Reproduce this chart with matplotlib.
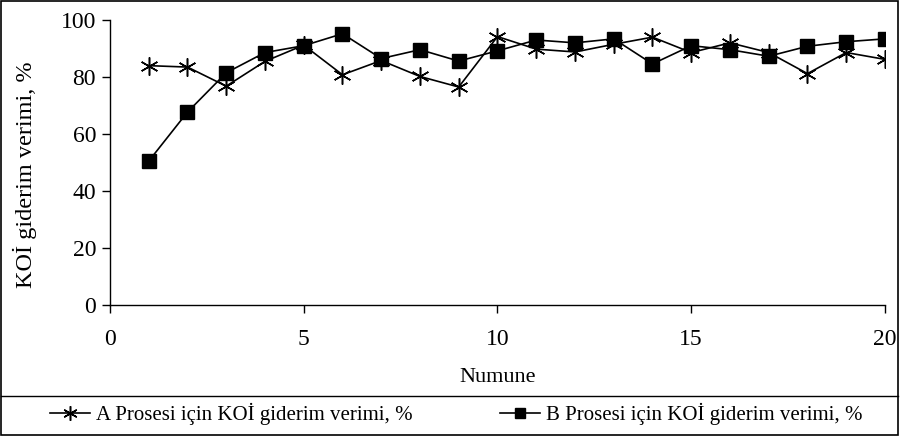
import matplotlib
matplotlib.use("Agg")
import matplotlib.pyplot as plt
from matplotlib.patches import Rectangle
from matplotlib.lines import Line2D

plt.rcParams['font.family'] = ['Liberation Serif', 'DejaVu Serif']

numune = list(range(1, 21))
a_verim = [84.0, 83.5, 76.8, 85.5, 91.2, 80.8, 85.8, 80.2, 76.5, 94.2,
           89.8, 88.8, 91.5, 94.0, 88.6, 92.0, 88.6, 81.2, 88.6, 86.2]
b_verim = [50.5, 67.7, 81.5, 88.6, 91.0, 95.2, 86.5, 89.6, 85.6, 89.2,
           93.0, 92.0, 93.4, 84.6, 91.0, 89.6, 87.3, 90.8, 92.4, 93.4]

x_ticks = [0, 5, 10, 15, 20]
y_ticks = [0, 20, 40, 60, 80, 100]

fig = plt.figure(figsize=(9, 4.36), dpi=100)
ax = fig.add_axes([0.1222, 0.3005, 0.8611, 0.6535])

ax.plot(numune, a_verim, color="black", linewidth=1.2,
        marker=(6, 2, 0), markersize=13, markeredgewidth=1.1,
        label="A Prosesi için KOİ giderim verimi, %")
ax.plot(numune, b_verim, color="black", linewidth=1.2,
        marker="s", markersize=9.5, markerfacecolor="black",
        label="B Prosesi için KOİ giderim verimi, %")

ax.set_xlim(0, 20)
ax.set_ylim(0, 100)
ax.set_xticks(x_ticks)
ax.set_yticks(y_ticks)
for side in ("top", "right"):
    ax.spines[side].set_visible(False)
for side in ("left", "bottom"):
    ax.spines[side].set_linewidth(1.0)
ax.tick_params(direction="out", length=6, width=1.0, labelsize=17)
ax.tick_params(axis="x", pad=11)
ax.tick_params(axis="y", pad=4)
ax.set_xlabel("Numune", fontsize=16, labelpad=13)
ax.set_ylabel("KOİ giderim verimi, %", fontsize=17.5)
ax.yaxis.set_label_coords(-0.094, 0.456)

# outer border and legend separator
fig.patches.append(Rectangle((0.001, 0.002), 0.997, 0.996, transform=fig.transFigure,
                             fill=False, edgecolor="black", linewidth=1.2))
fig.lines.append(Line2D([0.001, 0.998], [0.092, 0.092], transform=fig.transFigure,
                        color="black", linewidth=1.0))

fig.legend(loc="center", bbox_to_anchor=(0.507, 0.05), ncol=2, frameon=False,
           fontsize=15, handlelength=1.92, handletextpad=0.29, columnspacing=4.2,
           markerscale=0.8)

fig.savefig("out.png", dpi=100)
